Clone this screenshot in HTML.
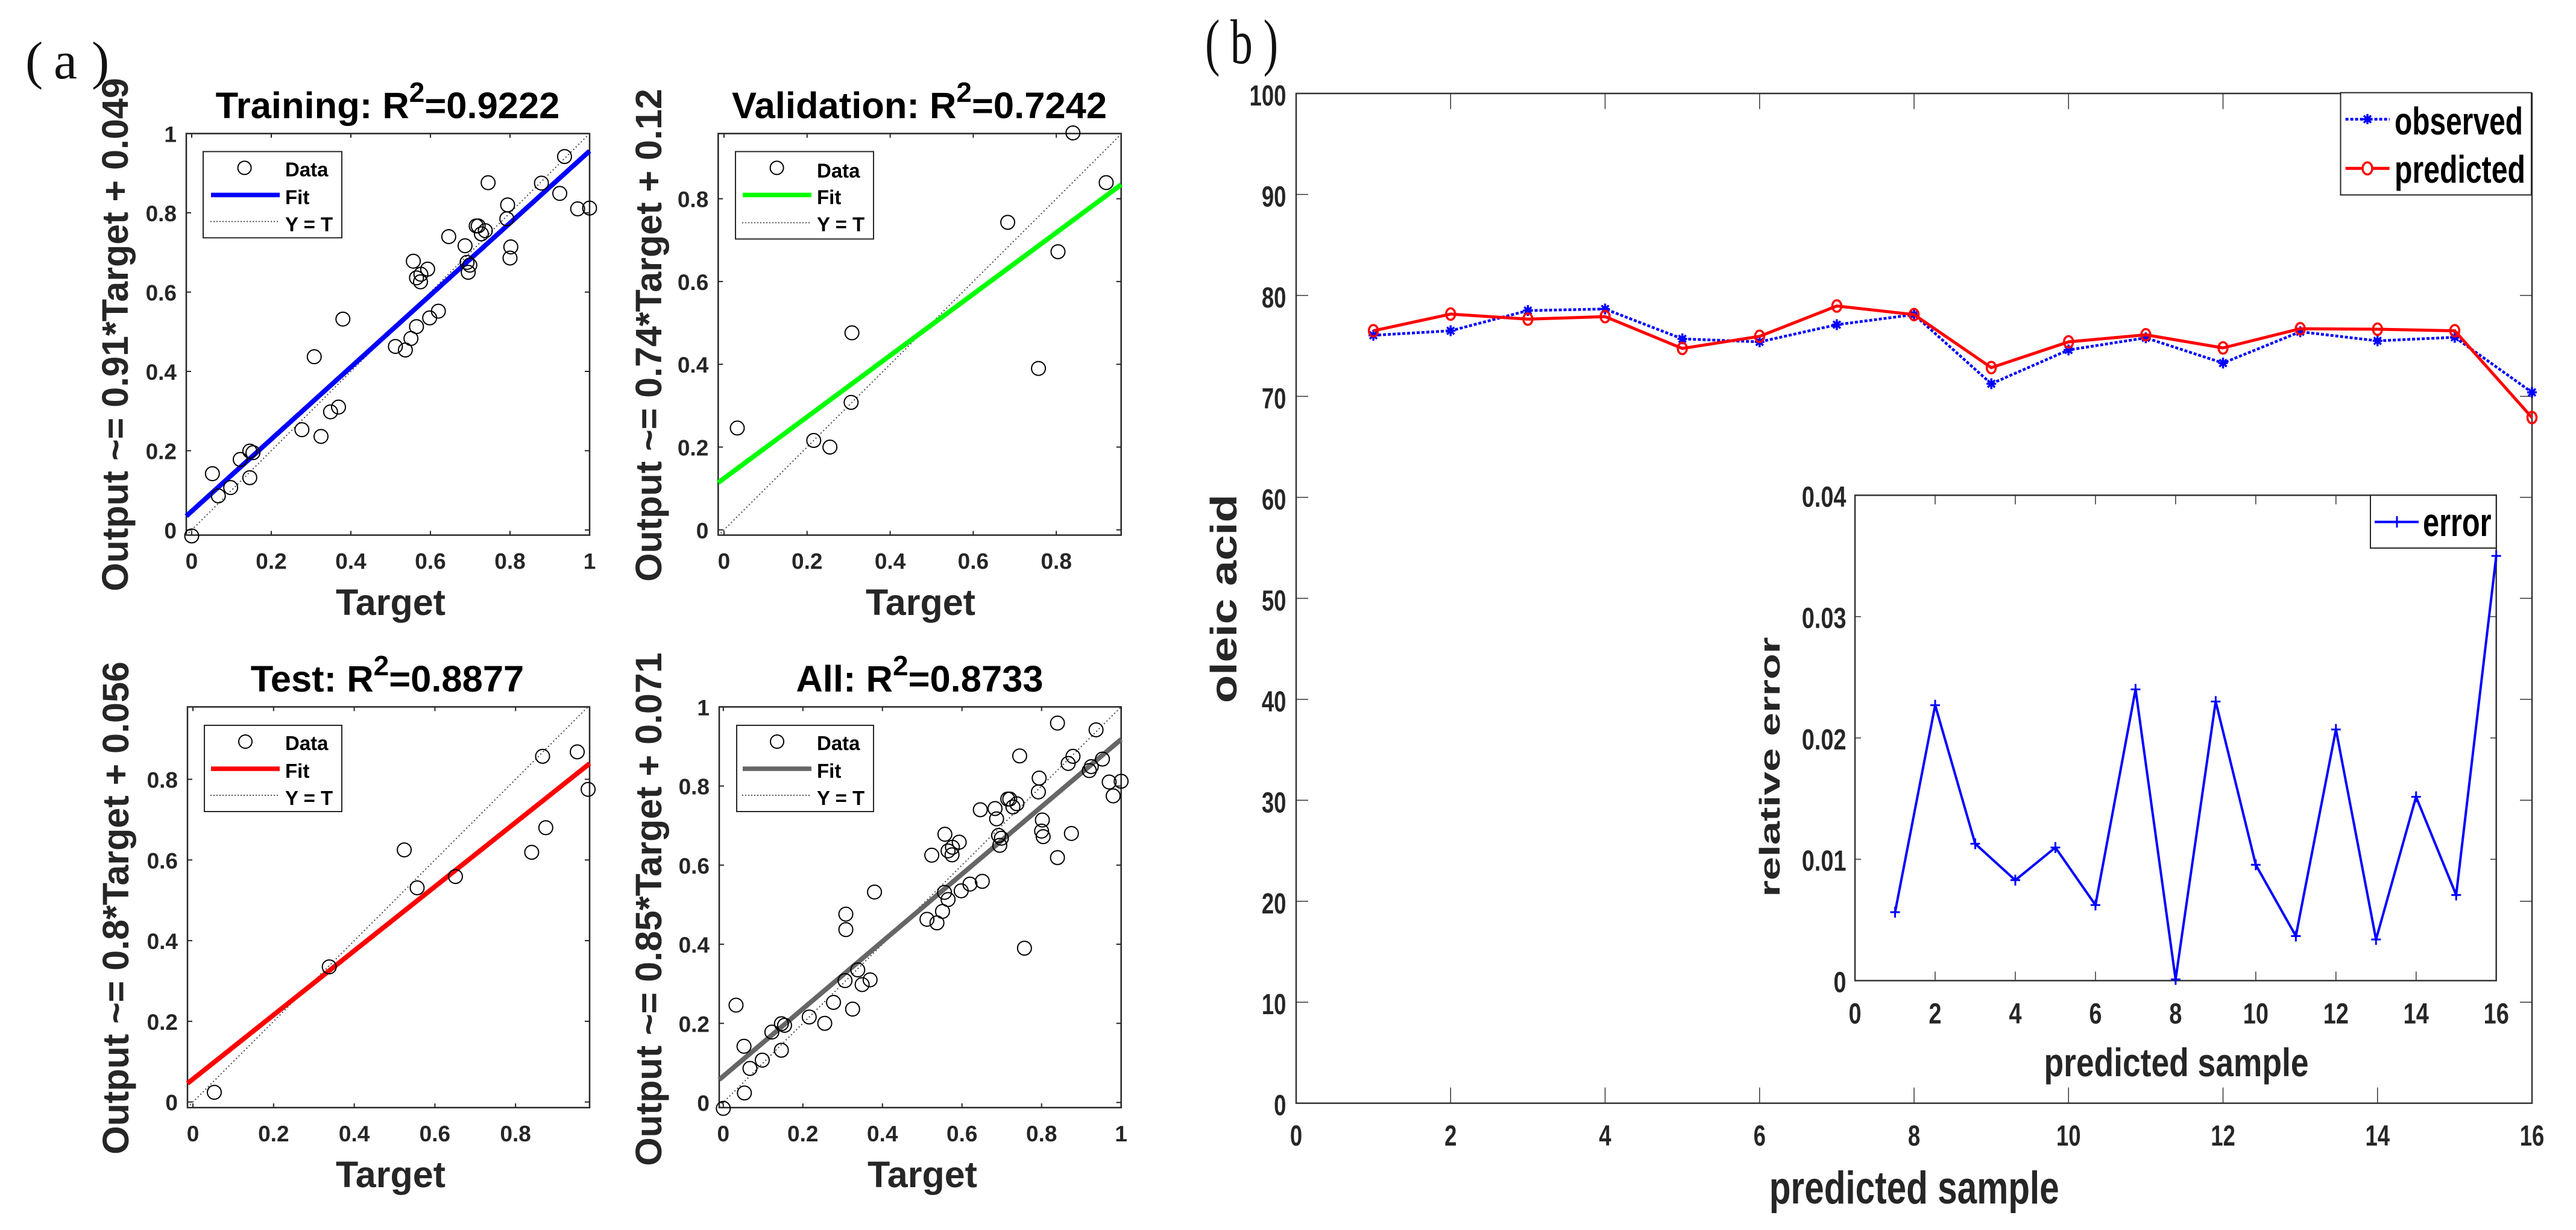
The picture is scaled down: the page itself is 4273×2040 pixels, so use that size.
<!DOCTYPE html>
<html lang="en">
<head>
<meta charset="utf-8">
<title>Regression plots and oleic acid prediction</title>
<style>
html,body{margin:0;padding:0;background:#fff;}
svg{display:block;}
text{font-family:"Liberation Sans",Arial,sans-serif;}
.b{font-weight:bold;}
.tk{fill:#262626;font-weight:bold;}
.lab{fill:#262626;font-weight:bold;}
.ttl{fill:#000;font-weight:bold;font-size:61.5px;text-anchor:middle;}
.lg{fill:#000;font-weight:bold;font-size:33px;}
.serif{font-family:"Liberation Serif",serif;fill:#111;}
</style>
</head>
<body>
<svg id="fig" xmlns="http://www.w3.org/2000/svg" width="4273" height="2040" viewBox="0 0 4273 2040">
<rect x="0" y="0" width="4273" height="2040" fill="#fff"/>

<text class="serif" font-size="88" x="42 89 152" y="130">(a)</text>
<text class="serif" font-size="105" transform="translate(1999,105) scale(0.7,1)" x="0 60 138" y="0">(b)</text>

<!-- Training -->
<g>
  <g id="p-train"></g>
  <text class="ttl" x="643" y="196">Training: R<tspan font-size="46" dy="-27">2</tspan><tspan dy="27">=0.9222</tspan></text>
  <text class="lab" font-size="61" text-anchor="middle" x="648" y="1020">Target</text>
  <text class="lab" font-size="61" text-anchor="middle" transform="translate(212,555) rotate(-90)">Output ~= 0.91*Target + 0.049</text>
  <g transform="translate(337,251.4)">
    <rect x="0" y="0" width="230" height="143" fill="#fff" stroke="#262626" stroke-width="2"/>
    <circle cx="68.6" cy="27" r="11" fill="none" stroke="#000" stroke-width="2"/>
    <line x1="13" x2="127" y1="72" y2="72" stroke="#0000ff" stroke-width="7.5"/>
    <line x1="12" x2="127" y1="116" y2="116" stroke="#555" stroke-width="2" stroke-dasharray="2 3"/>
    <text class="lg" x="136" y="41">Data</text>
    <text class="lg" x="136" y="87">Fit</text>
    <text class="lg" x="136" y="132">Y = T</text>
  </g>
</g>

<!-- Validation -->
<g>
  <g id="p-val"></g>
  <text class="ttl" x="1525" y="196">Validation: R<tspan font-size="46" dy="-27">2</tspan><tspan dy="27">=0.7242</tspan></text>
  <text class="lab" font-size="61" text-anchor="middle" x="1527" y="1020">Target</text>
  <text class="lab" font-size="61" text-anchor="middle" transform="translate(1097,556) rotate(-90)">Output ~= 0.74*Target + 0.12</text>
  <g transform="translate(1220,251.4)">
    <rect x="0" y="0" width="229" height="145" fill="#fff" stroke="#262626" stroke-width="2"/>
    <circle cx="68.6" cy="27" r="11" fill="none" stroke="#000" stroke-width="2"/>
    <line x1="12" x2="126" y1="72" y2="72" stroke="#00ff00" stroke-width="7.5"/>
    <line x1="11" x2="126" y1="118" y2="118" stroke="#555" stroke-width="2" stroke-dasharray="2 3"/>
    <text class="lg" x="135" y="43">Data</text>
    <text class="lg" x="135" y="87">Fit</text>
    <text class="lg" x="135" y="132">Y = T</text>
  </g>
</g>

<!-- Test -->
<g>
  <g id="p-test"></g>
  <text class="ttl" x="642.5" y="1147">Test: R<tspan font-size="46" dy="-27">2</tspan><tspan dy="27">=0.8877</tspan></text>
  <text class="lab" font-size="61" text-anchor="middle" x="648" y="1969">Target</text>
  <text class="lab" font-size="61" text-anchor="middle" transform="translate(213,1506) rotate(-90)">Output ~= 0.8*Target + 0.056</text>
  <g transform="translate(339,1203)">
    <rect x="0" y="0" width="228" height="143" fill="#fff" stroke="#262626" stroke-width="2"/>
    <circle cx="68" cy="27" r="11" fill="none" stroke="#000" stroke-width="2"/>
    <line x1="11" x2="125" y1="72" y2="72" stroke="#ff0000" stroke-width="7.5"/>
    <line x1="10" x2="125" y1="116" y2="116" stroke="#555" stroke-width="2" stroke-dasharray="2 3"/>
    <text class="lg" x="134" y="41">Data</text>
    <text class="lg" x="134" y="87">Fit</text>
    <text class="lg" x="134" y="132">Y = T</text>
  </g>
</g>

<!-- All -->
<g>
  <g id="p-all"></g>
  <text class="ttl" x="1525.5" y="1147">All: R<tspan font-size="46" dy="-27">2</tspan><tspan dy="27">=0.8733</tspan></text>
  <text class="lab" font-size="61" text-anchor="middle" x="1530" y="1969">Target</text>
  <text class="lab" font-size="61" text-anchor="middle" transform="translate(1097,1508) rotate(-90)">Output ~= 0.85*Target + 0.071</text>
  <g transform="translate(1222,1203)">
    <rect x="0" y="0" width="227" height="143" fill="#fff" stroke="#262626" stroke-width="2"/>
    <circle cx="67" cy="27" r="11" fill="none" stroke="#000" stroke-width="2"/>
    <line x1="10" x2="124" y1="72" y2="72" stroke="#666666" stroke-width="7.5"/>
    <line x1="9" x2="124" y1="116" y2="116" stroke="#555" stroke-width="2" stroke-dasharray="2 3"/>
    <text class="lg" x="133" y="41">Data</text>
    <text class="lg" x="133" y="87">Fit</text>
    <text class="lg" x="133" y="132">Y = T</text>
  </g>
</g>

<!-- Main comparison -->
<g>
  <g id="p-main"></g>
  <text class="lab" font-size="76" x="2934.7" y="1996" textLength="481" lengthAdjust="spacingAndGlyphs">predicted sample</text>
  <text class="lab" font-size="61" transform="translate(2051,1166) rotate(-90)" x="0" y="0" textLength="346" lengthAdjust="spacingAndGlyphs">oleic acid</text>
  <g>
    <rect x="3882.5" y="153.7" width="316.5" height="169.6" fill="#fff" stroke="#262626" stroke-width="2"/>
    <line x1="3890.6" x2="3963.7" y1="197.7" y2="197.7" stroke="#0000ff" stroke-width="4.5" stroke-dasharray="5 3"/>
    <path d="M3927 189v17M3918.5 197.7h17M3921 191.7l12 12M3933 191.7l-12 12" stroke="#0000ff" stroke-width="3.5" fill="none"/>
    <line x1="3890.6" x2="3963.7" y1="279.3" y2="279.3" stroke="#ff0000" stroke-width="5"/>
    <ellipse cx="3927" cy="279.3" rx="8" ry="10" fill="#fff" stroke="#ff0000" stroke-width="3.5"/>
    <text fill="#000" class="b" font-size="64" x="3972" y="223" textLength="213" lengthAdjust="spacingAndGlyphs">observed</text>
    <text fill="#000" class="b" font-size="64" x="3972" y="303" textLength="217" lengthAdjust="spacingAndGlyphs">predicted</text>
  </g>
</g>

<!-- Inset -->
<g>
  <g id="p-inset"></g>
  <text class="lab" font-size="66" x="3390.5" y="1785" textLength="439" lengthAdjust="spacingAndGlyphs">predicted sample</text>
  <text class="lab" font-size="47" transform="translate(2952,1487.5) rotate(-90)" x="0" y="0" textLength="431" lengthAdjust="spacingAndGlyphs">relative error</text>
  <g>
    <rect x="3932" y="821.4" width="208.7" height="87.6" fill="#fff" stroke="#262626" stroke-width="2"/>
    <line x1="3939" x2="4012" y1="865.6" y2="865.6" stroke="#0000ff" stroke-width="4"/>
    <path d="M3976 856v19M3968 865.6h16" stroke="#0000ff" stroke-width="3" fill="none"/>
    <text fill="#000" class="b" font-size="66" x="4019" y="889" textLength="113.6" lengthAdjust="spacingAndGlyphs">error</text>
  </g>
</g>
</svg>

<script>
// ---- Regression panels: values ----
const trainTargets = [0,.052,.067,.098,.122,.146,.154,.146,.277,.325,.308,.349,.369,.38,.512,.537,.551,.565,.557,.565,.576,.575,.593,.598,.62,.646,.687,.692,.699,.695,.715,.72,.728,.738,.745,.794,.792,.802,.8,.879,.925,.937,.97,1];
const trainOutputs = [-.015,.142,.086,.107,.178,.199,.195,.132,.253,.236,.437,.298,.31,.532,.463,.454,.483,.513,.678,.636,.645,.626,.658,.535,.552,.74,.717,.675,.668,.65,.767,.767,.747,.755,.876,.82,.785,.714,.686,.875,.849,.942,.81,.812];
const valTargets = [.032,.216,.255,.306,.308,.683,.757,.804,.84,.92];
const valOutputs = [.246,.216,.2,.308,.476,.743,.39,.672,.959,.839];
const testTargets = [.053,.338,.524,.556,.651,.84,.867,.875,.953,.98];
const testOutputs = [.024,.335,.625,.531,.559,.619,.857,.68,.868,.775];
const allTargets = [...trainTargets, ...valTargets, ...testTargets];
const allOutputs = [...trainOutputs, ...valOutputs, ...testOutputs];

const trainFitEnds = [[-.0136,.035],[1,.956]];
const valFitEnds = [[-.014,.114],[.956,.834]];
const testFitEnds = [[-.0135,.046],[.9836,.839]];
const allFitEnds = [[-.0103,.0576],[1,.918]];

const ticks01 = [0,.2,.4,.6,.8,1];
const ticks08 = [0,.2,.4,.6,.8];

// ---- Prediction panel values ----
const sampleIndex = [1,2,3,4,5,6,7,8,9,10,11,12,13,14,15,16];
const observedValues = [76.05,76.5,78.5,78.65,75.7,75.4,77.1,78.1,71.25,74.6,75.8,73.3,76.4,75.5,75.85,70.4];
const predictedValues = [76.5,78.15,77.65,77.9,74.75,75.95,78.95,78.1,72.85,75.4,76.1,74.8,76.7,76.65,76.5,67.9];
const relativeErrors = [.00564,.0227,.01128,.00828,.01097,.00623,.024,.0001,.023,.00955,.00367,.0207,.00339,.01515,.00706,.035];

const mainXTicks = [0,2,4,6,8,10,12,14,16];
const mainYTicks = [0,10,20,30,40,50,60,70,80,90,100];
const insetXTicks = [0,2,4,6,8,10,12,14,16];
const insetYTicks = [0,.01,.02,.03,.04];

const NS = 'http://www.w3.org/2000/svg';
function make(parent, tag, name, attrs) {
  const el = document.createElementNS(NS, tag);
  
  
  for (const k in attrs) el.setAttribute(k, attrs[k]);
  parent.appendChild(el);
  return el;
}
function linear(d0, d1, r0, r1) {
  return v => r0 + (v - d0) * (r1 - r0) / (d1 - d0);
}
function ln(g, name, x1, y1, x2, y2, w, color) {
  return make(g, 'line', name, {x1, y1, x2, y2, stroke: color, 'stroke-width': w});
}

function regressionPanel(id, prefix, box, xDomain, yDomain, xTicks, yTicks, xs, ys, fitEnds, fitColor) {
  const g = document.getElementById(id);
  const X = linear(xDomain[0], xDomain[1], box.l, box.r);
  const Y = linear(yDomain[0], yDomain[1], box.b, box.t);
  make(g, 'rect', prefix + '-plot-area', {x: box.l, y: box.t, width: box.r - box.l, height: box.b - box.t, fill: '#fff', stroke: '#262626', 'stroke-width': 2.5});
  xTicks.forEach(t => {
    ln(g, prefix + '-x-tick', X(t), box.b, X(t), box.b - 7, 2, '#262626');
    ln(g, prefix + '-x-tick-top', X(t), box.t, X(t), box.t + 7, 2, '#262626');
    const lab = make(g, 'text', prefix + '-x-tick-label', {x: X(t), y: box.b + 56, 'text-anchor': 'middle', 'font-size': 37, class: 'tk'});
    lab.textContent = String(t);
  });
  yTicks.forEach(t => {
    ln(g, prefix + '-y-tick', box.l, Y(t), box.l + 8, Y(t), 2, '#262626');
    ln(g, prefix + '-y-tick-right', box.r, Y(t), box.r - 8, Y(t), 2, '#262626');
    const lab = make(g, 'text', prefix + '-y-tick-label', {x: box.l - 16, y: Y(t) + 14, 'text-anchor': 'end', 'font-size': 37, class: 'tk'});
    lab.textContent = String(t);
  });
  ln(g, prefix + '-identity-line', X(xDomain[0]), Y(xDomain[0]), X(Math.min(xDomain[1], yDomain[1])), Y(Math.min(xDomain[1], yDomain[1])), 2, '#444').setAttribute('stroke-dasharray', '2 4');
  ln(g, prefix + '-fit-line', X(fitEnds[0][0]), Y(fitEnds[0][1]), X(fitEnds[1][0]), Y(fitEnds[1][1]), 8, fitColor);
  xs.forEach((v, i) => {
    make(g, 'circle', prefix + '-data-point', {cx: X(v), cy: Y(ys[i]), r: 11.5, fill: 'none', stroke: '#000', 'stroke-width': 2});
  });
}

regressionPanel('p-train', 'training', {l: 309, r: 978, t: 221.5, b: 887.5}, [-.0136, 1], [-.0129, 1], ticks01, ticks01, trainTargets, trainOutputs, trainFitEnds, '#0000ff');
regressionPanel('p-val', 'validation', {l: 1191.3, r: 1859.7, t: 221.5, b: 887.5}, [-.014, .956], [-.0127, .9575], ticks08, ticks08, valTargets, valOutputs, valFitEnds, '#00ff00');
regressionPanel('p-test', 'test', {l: 311, r: 978, t: 1172.4, b: 1837}, [-.0135, .9836], [-.0139, .9795], ticks08, ticks08, testTargets, testOutputs, testFitEnds, '#ff0000');
regressionPanel('p-all', 'all', {l: 1193, r: 1859.7, t: 1172.4, b: 1837}, [-.0103, 1], [-.013, 1], ticks01, ticks01, allTargets, allOutputs, allFitEnds, '#666666');

function condensedLabel(g, name, x, y, anchor, text, size, sx) {
  const lab = make(g, 'text', name, {transform: 'translate(' + x + ',' + y + ') scale(' + sx + ',1)', 'text-anchor': anchor, 'font-size': size, class: 'tk'});
  lab.textContent = text;
  return lab;
}
function polyPoints(xs, ys, X, Y) {
  return xs.map((v, i) => X(v).toFixed(1) + ',' + Y(ys[i]).toFixed(1)).join(' ');
}

// Main panel
(function () {
  const g = document.getElementById('p-main');
  const box = {l: 2150, r: 4200, t: 155, b: 1829.7};
  const X = linear(0, 16, box.l, box.r);
  const Y = linear(0, 100, box.b, box.t);
  make(g, 'rect', 'prediction-plot-area', {x: box.l, y: box.t, width: box.r - box.l, height: box.b - box.t, fill: '#fff', stroke: '#333', 'stroke-width': 2.5});
  mainXTicks.forEach(t => {
    if (t > 0 && t < 16) {
      ln(g, 'prediction-x-tick', X(t), box.b, X(t), box.b - 26, 1.5, '#333');
      ln(g, 'prediction-x-tick-top', X(t), box.t, X(t), box.t + 26, 1.5, '#333');
    }
    condensedLabel(g, 'prediction-x-tick-label', X(t), 1900, 'middle', String(t), 48, 0.76);
  });
  mainYTicks.forEach(t => {
    if (t > 0 && t < 100) {
      ln(g, 'prediction-y-tick', box.l, Y(t), box.l + 20, Y(t), 1.5, '#333');
      ln(g, 'prediction-y-tick-right', box.r, Y(t), box.r - 20, Y(t), 1.5, '#333');
    }
    condensedLabel(g, 'prediction-y-tick-label', 2133.4, Y(t) + 20, 'end', String(t), 48, 0.76);
  });
  make(g, 'polyline', 'observed-line', {points: polyPoints(sampleIndex, observedValues, X, Y), fill: 'none', stroke: '#0000ff', 'stroke-width': 4.5, 'stroke-dasharray': '5 3'});
  sampleIndex.forEach((s, i) => {
    const cx = X(s), cy = Y(observedValues[i]);
    make(g, 'path', 'observed-point', {d: 'M' + cx + ' ' + (cy - 9) + 'v18M' + (cx - 8) + ' ' + cy + 'h16M' + (cx - 6) + ' ' + (cy - 6) + 'l12 12M' + (cx + 6) + ' ' + (cy - 6) + 'l-12 12', stroke: '#0000ff', 'stroke-width': 3.5, fill: 'none'});
  });
  make(g, 'polyline', 'predicted-line', {points: polyPoints(sampleIndex, predictedValues, X, Y), fill: 'none', stroke: '#ff0000', 'stroke-width': 5});
  sampleIndex.forEach((s, i) => {
    make(g, 'ellipse', 'predicted-point', {cx: X(s), cy: Y(predictedValues[i]), rx: 7.5, ry: 9.5, fill: 'none', stroke: '#ff0000', 'stroke-width': 3.5});
  });
})();

// Inset panel
(function () {
  const g = document.getElementById('p-inset');
  const box = {l: 3077, r: 4140.7, t: 821.4, b: 1626.4};
  const X = linear(0, 16, box.l, box.r);
  const Y = linear(0, .04, box.b, box.t);
  make(g, 'rect', 'inset-backdrop', {x: box.l, y: box.t, width: box.r - box.l, height: box.b - box.t, fill: '#fff', stroke: '#333', 'stroke-width': 2.5});
  insetXTicks.forEach(t => {
    if (t > 0 && t < 16) {
      ln(g, 'error-x-tick', X(t), box.b, X(t), box.b - 15, 1.5, '#333');
      ln(g, 'error-x-tick-top', X(t), box.t, X(t), box.t + 15, 1.5, '#333');
    }
    condensedLabel(g, 'error-x-tick-label', X(t), 1697.6, 'middle', String(t), 48, 0.79);
  });
  insetYTicks.forEach(t => {
    if (t > 0 && t < .04) {
      ln(g, 'error-y-tick', box.l, Y(t), box.l + 10, Y(t), 1.5, '#333');
      ln(g, 'error-y-tick-right', box.r, Y(t), box.r - 10, Y(t), 1.5, '#333');
    }
    condensedLabel(g, 'error-y-tick-label', 3062.5, Y(t) + 19, 'end', String(t), 48, 0.79);
  });
  make(g, 'polyline', 'error-line', {points: polyPoints(sampleIndex, relativeErrors, X, Y), fill: 'none', stroke: '#0000ff', 'stroke-width': 4});
  sampleIndex.forEach((s, i) => {
    const cx = X(s), cy = Y(relativeErrors[i]);
    make(g, 'path', 'error-point', {d: 'M' + cx + ' ' + (cy - 9) + 'v18M' + (cx - 8) + ' ' + cy + 'h16', stroke: '#0000ff', 'stroke-width': 3, fill: 'none'});
  });
})();
</script>
</body>
</html>
